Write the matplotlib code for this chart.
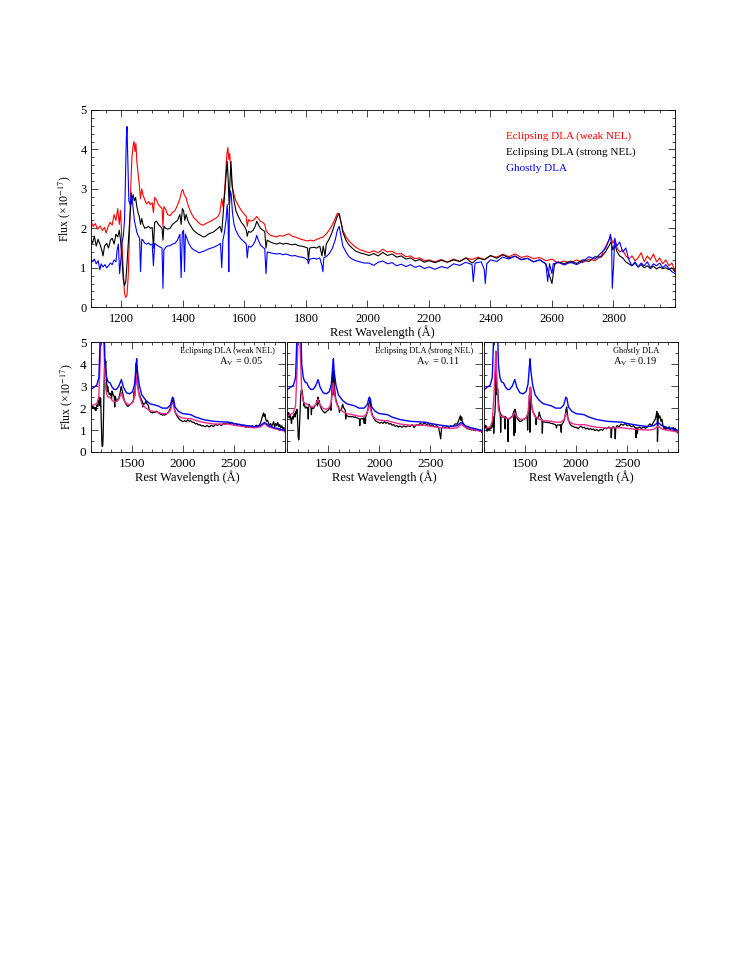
import numpy as np
import matplotlib
matplotlib.use("Agg")
import matplotlib.pyplot as plt
from matplotlib.ticker import MultipleLocator

plt.rcParams['font.family'] = ['Liberation Serif', 'DejaVu Serif']
plt.rcParams['mathtext.fontset'] = 'stix'

# ---- top panel: composite spectra ----
red_wave = [1100, 1108, 1115, 1122, 1130, 1138, 1145, 1150, 1157, 1163, 1170, 1176, 1182, 1188, 1193, 1197,
            1202, 1206, 1210, 1214, 1218, 1222, 1226, 1230, 1234, 1238, 1241, 1244, 1247, 1250, 1254, 1258,
            1262, 1266, 1270, 1276, 1282, 1288, 1294, 1300, 1304, 1308, 1314, 1320, 1326, 1332, 1335, 1338,
            1344, 1350, 1358, 1366, 1374, 1382, 1390, 1396, 1400, 1404, 1410, 1418, 1426, 1434, 1442, 1450,
            1458, 1466, 1474, 1482, 1490, 1498, 1506, 1514, 1520, 1526, 1530, 1535, 1540, 1543, 1546, 1549,
            1552, 1556, 1560, 1566, 1572, 1580, 1590, 1600, 1606, 1609, 1613, 1620, 1628, 1635, 1640, 1645,
            1652, 1660, 1666, 1670, 1676, 1685, 1695, 1705, 1715, 1725, 1735, 1745, 1755, 1765, 1775, 1785,
            1795, 1805, 1815, 1825, 1835, 1845, 1855, 1865, 1875, 1885, 1895, 1902, 1908, 1914, 1920, 1930,
            1940, 1950, 1962, 1975, 1990, 2005, 2020, 2035, 2050, 2065, 2080, 2095, 2110, 2125, 2140, 2155,
            2170, 2185, 2200, 2220, 2240, 2260, 2280, 2300, 2320, 2340, 2360, 2380, 2400, 2420, 2440, 2460,
            2480, 2500, 2520, 2540, 2560, 2580, 2600, 2620, 2640, 2660, 2680, 2700, 2720, 2740, 2760, 2775,
            2785, 2792, 2798, 2804, 2812, 2820, 2830, 2840, 2850, 2860, 2870, 2880, 2890, 2900, 2910, 2920,
            2930, 2940, 2950, 2960, 2970, 2980, 2990, 3000]
red_flux = [2.20, 2.05, 2.12, 1.98, 2.06, 1.95, 2.02, 1.88, 2.05, 2.15, 2.08, 2.35, 2.20, 2.50, 2.10, 2.45,
            1.60, 0.90, 0.35, 0.25, 0.30, 0.80, 1.80, 3.00, 3.80, 4.10, 4.20, 3.95, 4.15, 3.70, 3.40, 3.10,
            2.75, 3.00, 2.85, 2.72, 2.62, 2.68, 2.60, 2.65, 2.40, 2.78, 2.72, 2.60, 2.55, 2.50, 2.05, 2.55,
            2.48, 2.35, 2.32, 2.40, 2.45, 2.58, 2.75, 2.95, 2.98, 2.85, 2.78, 2.55, 2.40, 2.28, 2.22, 2.15,
            2.10, 2.08, 2.12, 2.15, 2.18, 2.22, 2.25, 2.30, 2.40, 2.75, 2.55, 2.90, 3.50, 3.90, 4.05, 3.75,
            3.90, 3.45, 3.05, 2.85, 2.70, 2.58, 2.45, 2.35, 2.30, 2.05, 2.22, 2.18, 2.20, 2.25, 2.30, 2.25,
            2.18, 2.15, 2.10, 1.95, 1.88, 1.82, 1.80, 1.78, 1.82, 1.80, 1.84, 1.86, 1.80, 1.78, 1.75, 1.72,
            1.70, 1.68, 1.70, 1.68, 1.72, 1.75, 1.78, 1.85, 1.95, 2.08, 2.25, 2.38, 2.35, 2.15, 1.95, 1.78,
            1.68, 1.60, 1.52, 1.46, 1.42, 1.38, 1.43, 1.38, 1.47, 1.40, 1.42, 1.35, 1.36, 1.28, 1.30, 1.23,
            1.25, 1.18, 1.20, 1.15, 1.21, 1.14, 1.22, 1.16, 1.25, 1.21, 1.27, 1.20, 1.30, 1.27, 1.34, 1.28,
            1.35, 1.26, 1.30, 1.23, 1.26, 1.18, 1.22, 1.12, 1.17, 1.12, 1.20, 1.13, 1.22, 1.18, 1.30, 1.55,
            1.70, 1.78, 1.62, 1.72, 1.50, 1.40, 1.45, 1.30, 1.22, 1.30, 1.18, 1.25, 1.38, 1.15, 1.30, 1.20,
            1.35, 1.15, 1.25, 1.10, 1.20, 1.05, 1.12, 0.92]

black_wave = [1100, 1106, 1112, 1118, 1124, 1130, 1136, 1140, 1145, 1152, 1158, 1164, 1170, 1176, 1182, 1188,
              1193, 1197, 1202, 1206, 1210, 1214, 1218, 1222, 1226, 1230, 1234, 1238, 1242, 1246, 1250, 1254,
              1258, 1262, 1266, 1270, 1276, 1282, 1288, 1294, 1300, 1304, 1308, 1314, 1320, 1326, 1332, 1335,
              1338, 1344, 1350, 1358, 1366, 1374, 1382, 1390, 1394, 1398, 1402, 1406, 1410, 1418, 1426, 1434,
              1442, 1450, 1458, 1466, 1474, 1482, 1490, 1498, 1506, 1514, 1520, 1526, 1530, 1535, 1540, 1544,
              1547, 1550, 1553, 1556, 1560, 1566, 1572, 1580, 1590, 1600, 1606, 1609, 1613, 1620, 1628, 1635,
              1640, 1645, 1652, 1660, 1666, 1670, 1674, 1685, 1695, 1705, 1715, 1725, 1735, 1745, 1755, 1765,
              1775, 1785, 1795, 1805, 1808, 1812, 1825, 1835, 1845, 1852, 1856, 1862, 1866, 1875, 1885, 1895,
              1902, 1908, 1914, 1920, 1930, 1940, 1950, 1962, 1975, 1990, 2005, 2020, 2035, 2050, 2065, 2080,
              2095, 2110, 2125, 2140, 2155, 2170, 2185, 2200, 2220, 2240, 2260, 2280, 2300, 2320, 2340, 2360,
              2380, 2400, 2420, 2440, 2460, 2480, 2500, 2520, 2540, 2560, 2580, 2600, 2608, 2620, 2640, 2660,
              2680, 2700, 2720, 2740, 2760, 2775, 2785, 2792, 2798, 2804, 2812, 2820, 2830, 2840, 2850, 2860,
              2870, 2880, 2890, 2900, 2910, 2920, 2930, 2940, 2950, 2960, 2970, 2980, 2990, 3000]
black_flux = [1.75, 1.62, 1.80, 1.55, 1.72, 1.60, 1.45, 1.30, 1.55, 1.62, 1.50, 1.70, 1.75, 1.60, 1.85, 1.78,
              1.95, 1.70, 1.20, 0.70, 0.55, 0.65, 1.10, 1.60, 2.10, 2.55, 2.75, 2.85, 2.70, 2.78, 2.55, 2.40,
              2.30, 2.10, 2.25, 2.10, 2.00, 2.02, 2.05, 2.00, 2.02, 1.50, 2.15, 2.18, 2.10, 2.05, 2.00, 1.70,
              2.05, 2.00, 1.98, 2.00, 2.10, 2.15, 2.20, 2.35, 2.10, 2.50, 2.45, 2.20, 2.35, 2.15, 2.05, 1.95,
              1.90, 1.85, 1.82, 1.78, 1.80, 1.85, 1.88, 1.90, 1.95, 2.00, 2.05, 1.90, 2.30, 2.80, 3.30, 3.70,
              3.25, 2.60, 3.20, 3.70, 3.10, 2.70, 2.45, 2.30, 2.15, 2.05, 1.95, 1.80, 1.92, 1.90, 1.95, 2.05,
              2.18, 2.10, 2.00, 1.95, 1.92, 1.50, 1.70, 1.65, 1.62, 1.60, 1.63, 1.60, 1.62, 1.60, 1.58, 1.60,
              1.56, 1.55, 1.53, 1.50, 1.20, 1.50, 1.52, 1.50, 1.55, 1.30, 1.55, 1.30, 1.60, 1.72, 1.90, 2.15,
              2.30, 2.38, 2.15, 1.90, 1.70, 1.58, 1.50, 1.42, 1.38, 1.35, 1.31, 1.36, 1.30, 1.39, 1.31, 1.35,
              1.27, 1.30, 1.22, 1.25, 1.17, 1.21, 1.14, 1.18, 1.13, 1.19, 1.14, 1.20, 1.16, 1.25, 1.12, 1.24,
              1.21, 1.31, 1.24, 1.33, 1.25, 1.29, 1.21, 1.24, 1.15, 1.20, 1.10, 0.60, 1.08, 1.15, 1.10, 1.17,
              1.11, 1.20, 1.16, 1.28, 1.27, 1.42, 1.55, 1.65, 1.45, 1.60, 1.40, 1.30, 1.25, 1.15, 1.10, 1.05,
              1.12, 1.02, 1.08, 1.00, 1.05, 0.98, 1.04, 0.97, 1.02, 0.98, 1.00, 0.95, 1.00, 0.90]

blue_wave = [1100, 1106, 1112, 1118, 1124, 1130, 1134, 1140, 1146, 1152, 1158, 1164, 1170, 1176, 1182, 1186,
             1190, 1194, 1198, 1202, 1206, 1210, 1213, 1216, 1218, 1221, 1224, 1228, 1232, 1235, 1238, 1242,
             1246, 1250, 1255, 1259, 1262, 1266, 1270, 1276, 1282, 1288, 1294, 1300, 1304, 1308, 1314, 1320,
             1326, 1332, 1335, 1338, 1344, 1350, 1358, 1366, 1374, 1382, 1390, 1394, 1398, 1402, 1405, 1408,
             1414, 1420, 1428, 1436, 1444, 1452, 1460, 1468, 1476, 1484, 1492, 1500, 1508, 1516, 1522, 1526,
             1530, 1535, 1540, 1544, 1547, 1549, 1551, 1554, 1557, 1561, 1566, 1572, 1580, 1590, 1600, 1606,
             1609, 1613, 1620, 1628, 1635, 1640, 1645, 1652, 1660, 1666, 1670, 1674, 1685, 1695, 1705, 1715,
             1725, 1735, 1745, 1755, 1765, 1775, 1785, 1795, 1805, 1808, 1812, 1825, 1835, 1845, 1852, 1855,
             1858, 1865, 1875, 1885, 1895, 1902, 1908, 1914, 1920, 1930, 1940, 1950, 1962, 1975, 1990, 2005,
             2020, 2035, 2050, 2065, 2080, 2095, 2110, 2125, 2140, 2155, 2170, 2185, 2200, 2220, 2240, 2260,
             2280, 2300, 2320, 2340, 2344, 2350, 2370, 2380, 2383, 2388, 2400, 2420, 2440, 2460, 2480, 2500,
             2520, 2540, 2560, 2580, 2586, 2592, 2600, 2604, 2620, 2640, 2660, 2680, 2700, 2720, 2740, 2760,
             2775, 2785, 2790, 2794, 2796, 2800, 2804, 2810, 2820, 2830, 2840, 2850, 2860, 2870, 2880, 2890,
             2900, 2910, 2920, 2930, 2940, 2950, 2960, 2970, 2980, 2990, 3000]
blue_flux = [1.20, 1.15, 1.22, 1.10, 1.18, 0.95, 1.10, 1.02, 1.08, 1.00, 1.05, 1.12, 1.08, 1.20, 1.15, 1.45,
             1.60, 0.85, 1.20, 1.65, 1.80, 2.20, 3.20, 4.30, 4.58, 3.60, 2.70, 2.60, 2.90, 2.75, 2.50, 2.20,
             2.05, 1.90, 1.80, 1.75, 0.90, 1.72, 1.70, 1.62, 1.60, 1.63, 1.58, 1.60, 1.05, 1.62, 1.58, 1.55,
             1.52, 1.50, 0.48, 1.45, 1.52, 1.55, 1.56, 1.60, 1.62, 1.70, 1.85, 0.75, 1.90, 1.95, 0.90, 1.85,
             1.72, 1.60, 1.50, 1.45, 1.42, 1.38, 1.40, 1.42, 1.45, 1.48, 1.50, 1.52, 1.55, 1.58, 1.62, 1.00,
             1.70, 1.90, 2.20, 2.60, 2.10, 0.90, 2.50, 2.95, 2.85, 2.40, 2.10, 1.95, 1.82, 1.72, 1.65, 1.60,
             1.25, 1.55, 1.52, 1.58, 1.68, 1.82, 1.70, 1.58, 1.52, 1.48, 0.85, 1.40, 1.38, 1.36, 1.35, 1.36,
             1.33, 1.35, 1.32, 1.30, 1.31, 1.28, 1.27, 1.25, 1.20, 1.10, 1.22, 1.24, 1.22, 1.25, 1.05, 0.90,
             1.25, 1.28, 1.35, 1.48, 1.70, 1.95, 2.05, 1.80, 1.55, 1.40, 1.28, 1.22, 1.18, 1.15, 1.12, 1.12,
             1.06, 1.14, 1.17, 1.10, 1.13, 1.05, 1.09, 1.03, 1.08, 1.01, 1.05, 0.98, 1.02, 0.96, 1.03, 0.99,
             1.10, 1.06, 1.14, 1.08, 0.65, 1.12, 1.15, 0.95, 0.60, 1.10, 1.20, 1.16, 1.27, 1.22, 1.30, 1.20,
             1.24, 1.15, 1.20, 1.10, 0.65, 1.10, 0.85, 1.10, 1.14, 1.07, 1.14, 1.08, 1.16, 1.28, 1.22, 1.38,
             1.50, 1.70, 1.85, 1.55, 0.48, 1.00, 1.75, 1.55, 1.65, 1.40, 1.50, 1.20, 1.05, 1.15, 1.02, 1.12,
             1.05, 1.15, 1.00, 1.10, 1.05, 1.12, 1.00, 1.08, 0.98, 0.90, 0.85]

# ---- bottom panels: template (blue) and reddened template (magenta) ----
tmpl_wave = [1100, 1130, 1160, 1180, 1195, 1205, 1215, 1225, 1240, 1255, 1270, 1290, 1310, 1330, 1350, 1375,
             1400, 1420, 1450, 1480, 1510, 1530, 1543, 1550, 1557, 1575, 1600, 1640, 1680, 1720, 1760, 1800,
             1850, 1880, 1900, 1910, 1925, 1960, 2000, 2050, 2080, 2120, 2200, 2300, 2400, 2450, 2500, 2600,
             2700, 2760, 2800, 2840, 2900, 2950, 3000]
tmpl_flux = [2.85, 2.95, 3.05, 3.40, 5.50, 8.00, 10.0, 7.00, 4.00, 3.40, 3.20, 3.15, 2.95, 2.85, 2.85, 3.00,
             3.30, 2.95, 2.70, 2.65, 2.75, 3.10, 3.90, 4.25, 3.70, 3.05, 2.60, 2.35, 2.20, 2.15, 2.10, 2.00,
             2.00, 2.15, 2.50, 2.45, 2.05, 1.85, 1.75, 1.72, 1.70, 1.60, 1.48, 1.40, 1.37, 1.36, 1.30, 1.22,
             1.16, 1.20, 1.35, 1.20, 1.10, 1.05, 0.98]
red_model_weak = [2.10, 2.15, 2.20, 2.55, 4.50, 6.50, 8.00, 5.50, 3.20, 2.65, 2.50, 2.50, 2.35, 2.30, 2.30, 2.40,
                  2.70, 2.40, 2.20, 2.15, 2.25, 2.55, 3.20, 3.55, 3.05, 2.55, 2.20, 2.00, 1.88, 1.85, 1.80, 1.75,
                  1.75, 1.90, 2.25, 2.20, 1.82, 1.62, 1.55, 1.52, 1.52, 1.45, 1.35, 1.28, 1.27, 1.27, 1.22, 1.15,
                  1.10, 1.14, 1.30, 1.15, 1.06, 1.01, 0.95]
red_model_strong = [1.65, 1.70, 1.80, 2.10, 3.80, 5.50, 7.00, 4.80, 2.75, 2.30, 2.20, 2.20, 2.10, 2.05, 2.05, 2.15,
                    2.40, 2.15, 1.98, 1.95, 2.02, 2.30, 2.90, 3.15, 2.75, 2.30, 2.00, 1.85, 1.75, 1.72, 1.68, 1.63,
                    1.63, 1.75, 2.10, 2.05, 1.70, 1.52, 1.45, 1.43, 1.43, 1.37, 1.28, 1.22, 1.22, 1.22, 1.17, 1.11,
                    1.07, 1.10, 1.26, 1.12, 1.04, 0.99, 0.93]
red_model_ghostly = [1.05, 1.10, 1.15, 1.40, 2.50, 3.60, 4.60, 3.30, 1.95, 1.70, 1.62, 1.62, 1.55, 1.52, 1.52, 1.60,
                     1.80, 1.60, 1.50, 1.48, 1.55, 1.80, 2.60, 2.95, 2.40, 1.85, 1.60, 1.50, 1.42, 1.42, 1.40, 1.36,
                     1.36, 1.45, 1.75, 1.70, 1.42, 1.30, 1.25, 1.24, 1.25, 1.20, 1.13, 1.09, 1.10, 1.11, 1.07, 1.03,
                     1.00, 1.03, 1.18, 1.05, 0.98, 0.95, 0.90]

panel_titles = ["Eclipsing DLA (weak NEL)", "Eclipsing DLA (strong NEL)", "Ghostly DLA"]
panel_av = ["0.05", "0.11", "0.19"]

RED, BLUE, PINK = '#ff0000', '#0000ff', '#ee2a8c'
W, H = 747, 967


def style(ax, xminor, ymajor, yminor, lsize):
    ax.set_xlim(1100, 3000)
    ax.set_ylim(0, 5)
    ax.yaxis.set_major_locator(MultipleLocator(ymajor))
    ax.yaxis.set_minor_locator(MultipleLocator(yminor))
    ax.xaxis.set_minor_locator(MultipleLocator(xminor))
    ax.tick_params(which='both', direction='in', top=True, right=True, width=0.5, labelsize=lsize)
    ax.tick_params(which='major', length=5)
    ax.tick_params(which='minor', length=2.5)
    ax.tick_params(axis='x', pad=4)
    ax.tick_params(axis='y', pad=3)
    for s in ax.spines.values():
        s.set_linewidth(0.6)


fig = plt.figure(figsize=(W / 100, H / 100), dpi=100)

# top panel
ax = fig.add_axes([90.7 / W, 1 - 307.2 / H, 584.3 / W, 197.2 / H])
ax.plot(red_wave, red_flux, color=RED, lw=0.8)
ax.plot(black_wave, black_flux, color='black', lw=0.8)
ax.plot(blue_wave, blue_flux, color=BLUE, lw=0.8)
style(ax, 50, 1, 0.2, 9)
ax.set_xticks(np.arange(1200, 3000, 200))
ax.text(0.711, 0.868, "Eclipsing DLA (weak NEL)", color=RED, fontsize=8, transform=ax.transAxes, va='center')
ax.text(0.711, 0.786, "Eclipsing DLA (strong NEL)", color='black', fontsize=8, transform=ax.transAxes, va='center')
ax.text(0.711, 0.705, "Ghostly DLA", color=BLUE, fontsize=8, transform=ax.transAxes, va='center')
fig.text(382.5 / W, 1 - 332 / H, "Rest Wavelength (Å)", ha='center', va='center', fontsize=9)
fig.text(65 / W, 1 - 208.5 / H, "Flux (×10$^{-17}$)", ha='center', va='center', rotation=90, fontsize=8.5)

# bottom panels
obs = [(red_wave, red_flux), (black_wave, black_flux), (blue_wave, blue_flux)]
models = [red_model_weak, red_model_strong, red_model_ghostly]
lefts = [90.7, 287.4, 484.1]
title_x = [0.949, 0.958, 0.90]
for i in range(3):
    a = fig.add_axes([lefts[i] / W, 1 - 452 / H, 194.2 / W, 109.7 / H])
    a.plot(obs[i][0], obs[i][1], color='black', lw=0.9)
    a.plot(tmpl_wave, models[i], color=PINK, lw=1.0)
    a.plot(tmpl_wave, tmpl_flux, color=BLUE, lw=1.0)
    style(a, 100, 1, 0.5, 9.5)
    a.set_xticks([1500, 2000, 2500])
    if i > 0:
        a.set_yticklabels([])
    a.text(title_x[i], 0.923, panel_titles[i], fontsize=6, ha='right', va='center', transform=a.transAxes)
    a.text(0.889, 0.823, "A$_{\\mathrm{V}}$ = " + panel_av[i], fontsize=7.5, ha='right', va='center',
           transform=a.transAxes)
    fig.text((lefts[i] + 97) / W, 1 - 477 / H, "Rest Wavelength (Å)", ha='center', va='center', fontsize=9)
fig.text(66.5 / W, 1 - 397 / H, "Flux (×10$^{-17}$)", ha='center', va='center', rotation=90, fontsize=8.5)

fig.savefig("out.png", dpi=100)
